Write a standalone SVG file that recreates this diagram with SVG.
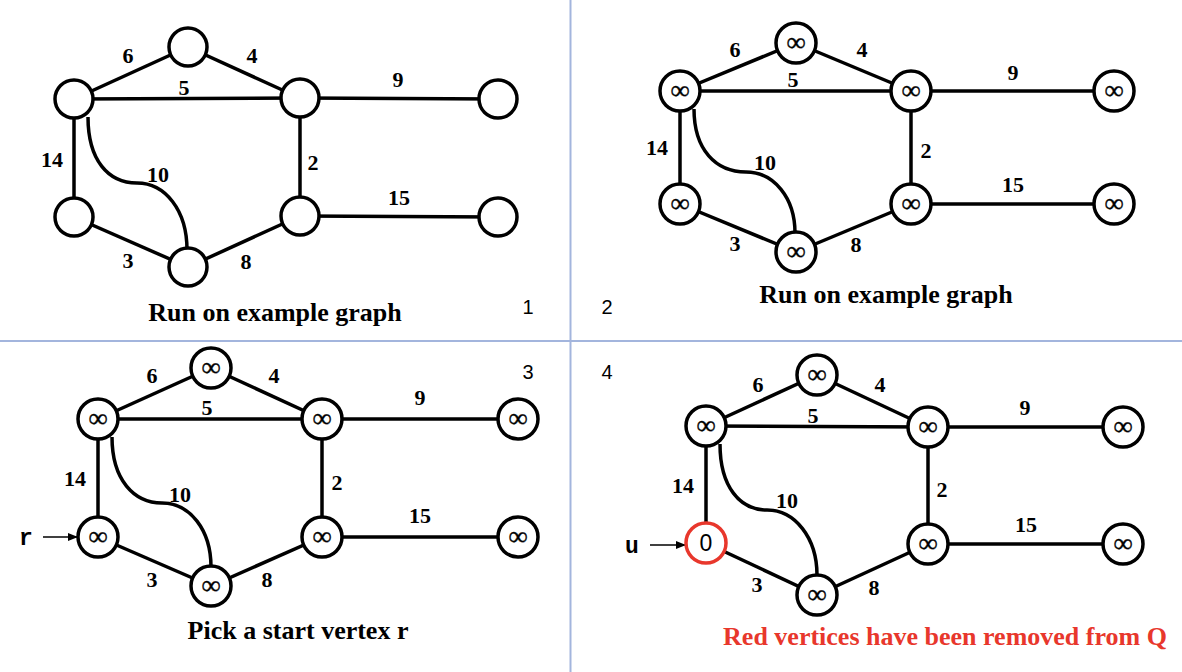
<svg xmlns="http://www.w3.org/2000/svg" width="1182" height="672" viewBox="0 0 1182 672">
<defs>
<style>
.e{stroke:#000;stroke-width:3.5;fill:none}
.n{fill:#fff;stroke:#000;stroke-width:3.5}
.nr{fill:#fff;stroke:#e8372c;stroke-width:3.5}
.w{font-family:"Liberation Serif","Times New Roman",serif;font-weight:bold;font-size:22px;text-anchor:middle;fill:#000}
.inf{font-family:"Liberation Serif","Times New Roman",serif;font-size:27px;text-anchor:middle;fill:#000;stroke:#000;stroke-width:0.4}
.t{font-family:"Liberation Serif","Times New Roman",serif;font-weight:bold;font-size:26px;text-anchor:middle;fill:#000}
.num{font-family:"Liberation Sans",Arial,sans-serif;font-size:20px;text-anchor:middle;fill:#000}
.z{font-family:"Liberation Sans",Arial,sans-serif;font-size:23px;text-anchor:middle;fill:#000}
.m{font-family:"Liberation Mono","Courier New",monospace;font-weight:bold;font-size:23px;text-anchor:middle;fill:#000}
.div{stroke:#a3b5dd;stroke-width:2}
.ar{stroke:#000;stroke-width:1.5;fill:none}
</style>
<marker id="ah" markerWidth="10" markerHeight="8" refX="9" refY="4" orient="auto" markerUnits="userSpaceOnUse">
<path d="M0,0 L10,4 L0,8 Z" fill="#000"/>
</marker>
</defs>
<rect width="1182" height="672" fill="#fff"/>
<g id="dividers">
<line class="div" x1="570.5" y1="0" x2="570.5" y2="672"/>
<line class="div" x1="0" y1="341" x2="1182" y2="341"/>
</g>

<!-- connectors -->
<g id="connectors">
<!-- Q1 -->
<line class="e" x1="74" y1="99" x2="188" y2="47"/>
<line class="e" x1="188" y1="47" x2="300" y2="98"/>
<line class="e" x1="74" y1="99" x2="300" y2="98"/>
<line class="e" x1="300" y1="98" x2="498" y2="99"/>
<line class="e" x1="74" y1="99" x2="74" y2="217"/>
<line class="e" x1="300" y1="98" x2="300" y2="216"/>
<line class="e" x1="300" y1="216" x2="498" y2="217"/>
<line class="e" x1="74" y1="217" x2="188" y2="267"/>
<line class="e" x1="188" y1="267" x2="300" y2="216"/>
<path class="e" d="M88,117 C88,160 108,183 137,183 C165,183 187,210 187,250"/>
<!-- Q2 -->
<line class="e" x1="680" y1="91" x2="796" y2="43"/>
<line class="e" x1="796" y1="43" x2="911" y2="91"/>
<line class="e" x1="680" y1="91" x2="911" y2="91"/>
<line class="e" x1="911" y1="91" x2="1114" y2="91"/>
<line class="e" x1="680" y1="91" x2="680" y2="204"/>
<line class="e" x1="911" y1="91" x2="911" y2="204"/>
<line class="e" x1="911" y1="204" x2="1114" y2="204"/>
<line class="e" x1="680" y1="204" x2="796" y2="252"/>
<line class="e" x1="796" y1="252" x2="911" y2="204"/>
<path class="e" d="M694,109 C694,150 716,172 746,172 C774,172 795,198 795,233"/>
<!-- Q3 -->
<line class="e" x1="98" y1="419" x2="211" y2="368"/>
<line class="e" x1="211" y1="368" x2="322" y2="419"/>
<line class="e" x1="98" y1="419" x2="322" y2="419"/>
<line class="e" x1="322" y1="419" x2="518" y2="419"/>
<line class="e" x1="98" y1="419" x2="98" y2="537"/>
<line class="e" x1="322" y1="419" x2="322" y2="537"/>
<line class="e" x1="322" y1="537" x2="518" y2="537"/>
<line class="e" x1="98" y1="537" x2="211" y2="586"/>
<line class="e" x1="211" y1="586" x2="322" y2="537"/>
<path class="e" d="M112,437 C112,480 134,503 162,503 C190,503 211,530 211,567"/>
<!-- Q4 -->
<line class="e" x1="706" y1="426" x2="817" y2="375"/>
<line class="e" x1="817" y1="375" x2="928" y2="427"/>
<line class="e" x1="706" y1="426" x2="928" y2="427"/>
<line class="e" x1="928" y1="427" x2="1123" y2="427"/>
<line class="e" x1="706" y1="426" x2="706" y2="543"/>
<line class="e" x1="928" y1="427" x2="928" y2="544"/>
<line class="e" x1="928" y1="544" x2="1123" y2="544"/>
<line class="e" x1="706" y1="543" x2="817" y2="595"/>
<line class="e" x1="817" y1="595" x2="928" y2="544"/>
<path class="e" d="M720,444 C720,487 740,510 767,510 C795,510 817,538 817,575"/>
<!-- pointer arrows -->
<line class="ar" x1="43" y1="537" x2="77" y2="537" marker-end="url(#ah)"/>
<line class="ar" x1="650" y1="545" x2="685" y2="545" marker-end="url(#ah)"/>
</g>

<!-- edge weights -->
<g id="weights">
<text class="w" x="128" y="63">6</text><text class="w" x="252" y="63">4</text><text class="w" x="184" y="95">5</text>
<text class="w" x="398" y="87">9</text><text class="w" x="52" y="167">14</text><text class="w" x="158" y="182">10</text>
<text class="w" x="313" y="170">2</text><text class="w" x="399" y="205">15</text><text class="w" x="128" y="268">3</text><text class="w" x="246" y="269">8</text>

<text class="w" x="735" y="57">6</text><text class="w" x="862" y="57">4</text><text class="w" x="793" y="87">5</text>
<text class="w" x="1013" y="80">9</text><text class="w" x="657" y="155">14</text><text class="w" x="765" y="170">10</text>
<text class="w" x="926" y="158">2</text><text class="w" x="1013" y="192">15</text><text class="w" x="735" y="251">3</text><text class="w" x="856" y="252">8</text>

<text class="w" x="152" y="383">6</text><text class="w" x="274" y="383">4</text><text class="w" x="207" y="415">5</text>
<text class="w" x="420" y="405">9</text><text class="w" x="75" y="486">14</text><text class="w" x="180" y="502">10</text>
<text class="w" x="337" y="490">2</text><text class="w" x="420" y="523">15</text><text class="w" x="152" y="587">3</text><text class="w" x="267" y="587">8</text>

<text class="w" x="758" y="392">6</text><text class="w" x="880" y="392">4</text><text class="w" x="813" y="423">5</text>
<text class="w" x="1025" y="415">9</text><text class="w" x="683" y="493">14</text><text class="w" x="787" y="508">10</text>
<text class="w" x="942" y="497">2</text><text class="w" x="1026" y="532">15</text><text class="w" x="757" y="592">3</text><text class="w" x="874" y="595">8</text>
</g>

<!-- Q1 nodes -->
<g id="q1-a"><circle class="n" cx="74" cy="99" r="19"/></g>
<g id="q1-t"><circle class="n" cx="188" cy="47" r="19"/></g>
<g id="q1-b"><circle class="n" cx="300" cy="98" r="19"/></g>
<g id="q1-c"><circle class="n" cx="74" cy="217" r="19"/></g>
<g id="q1-d"><circle class="n" cx="300" cy="216" r="19"/></g>
<g id="q1-e"><circle class="n" cx="188" cy="267" r="19"/></g>
<g id="q1-f"><circle class="n" cx="498" cy="99" r="19"/></g>
<g id="q1-g"><circle class="n" cx="498" cy="217" r="19"/></g>

<!-- Q2 nodes -->
<g id="q2-a"><circle class="n" cx="680" cy="91" r="20"/><text class="inf" x="680" y="99">∞</text></g>
<g id="q2-t"><circle class="n" cx="796" cy="43" r="20"/><text class="inf" x="796" y="51">∞</text></g>
<g id="q2-b"><circle class="n" cx="911" cy="91" r="20"/><text class="inf" x="911" y="99">∞</text></g>
<g id="q2-c"><circle class="n" cx="680" cy="204" r="20"/><text class="inf" x="680" y="212">∞</text></g>
<g id="q2-d"><circle class="n" cx="911" cy="204" r="20"/><text class="inf" x="911" y="212">∞</text></g>
<g id="q2-e"><circle class="n" cx="796" cy="252" r="20"/><text class="inf" x="796" y="260">∞</text></g>
<g id="q2-f"><circle class="n" cx="1114" cy="91" r="20"/><text class="inf" x="1114" y="99">∞</text></g>
<g id="q2-g"><circle class="n" cx="1114" cy="204" r="20"/><text class="inf" x="1114" y="212">∞</text></g>

<!-- Q3 nodes -->
<g id="q3-a"><circle class="n" cx="98" cy="419" r="20"/><text class="inf" x="98" y="427">∞</text></g>
<g id="q3-t"><circle class="n" cx="211" cy="368" r="20"/><text class="inf" x="211" y="376">∞</text></g>
<g id="q3-b"><circle class="n" cx="322" cy="419" r="20"/><text class="inf" x="322" y="427">∞</text></g>
<g id="q3-c"><circle class="n" cx="98" cy="537" r="20"/><text class="inf" x="98" y="545">∞</text></g>
<g id="q3-d"><circle class="n" cx="322" cy="537" r="20"/><text class="inf" x="322" y="545">∞</text></g>
<g id="q3-e"><circle class="n" cx="211" cy="586" r="20"/><text class="inf" x="211" y="594">∞</text></g>
<g id="q3-f"><circle class="n" cx="518" cy="419" r="20"/><text class="inf" x="518" y="427">∞</text></g>
<g id="q3-g"><circle class="n" cx="518" cy="537" r="20"/><text class="inf" x="518" y="545">∞</text></g>

<!-- Q4 nodes -->
<g id="q4-a"><circle class="n" cx="706" cy="426" r="20"/><text class="inf" x="706" y="434">∞</text></g>
<g id="q4-t"><circle class="n" cx="817" cy="375" r="20"/><text class="inf" x="817" y="383">∞</text></g>
<g id="q4-b"><circle class="n" cx="928" cy="427" r="20"/><text class="inf" x="928" y="435">∞</text></g>
<g id="q4-c"><circle class="nr" cx="706" cy="543" r="20"/><text class="z" x="706" y="551">0</text></g>
<g id="q4-d"><circle class="n" cx="928" cy="544" r="20"/><text class="inf" x="928" y="552">∞</text></g>
<g id="q4-e"><circle class="n" cx="817" cy="595" r="20"/><text class="inf" x="817" y="603">∞</text></g>
<g id="q4-f"><circle class="n" cx="1123" cy="427" r="20"/><text class="inf" x="1123" y="435">∞</text></g>
<g id="q4-g"><circle class="n" cx="1123" cy="544" r="20"/><text class="inf" x="1123" y="552">∞</text></g>

<!-- labels -->
<g id="labels">
<text class="m" x="26" y="545">r</text>
<text class="m" x="632" y="553">u</text>
<text class="t" x="275" y="321">Run on example graph</text>
<text class="t" x="886" y="303">Run on example graph</text>
<text class="t" x="298" y="639">Pick a start vertex r</text>
<text class="t" x="945" y="645" style="fill:#e8372c">Red vertices have been removed from Q</text>
<text class="num" x="528" y="314">1</text>
<text class="num" x="607" y="314">2</text>
<text class="num" x="528" y="379">3</text>
<text class="num" x="607" y="379">4</text>
</g>
</svg>
